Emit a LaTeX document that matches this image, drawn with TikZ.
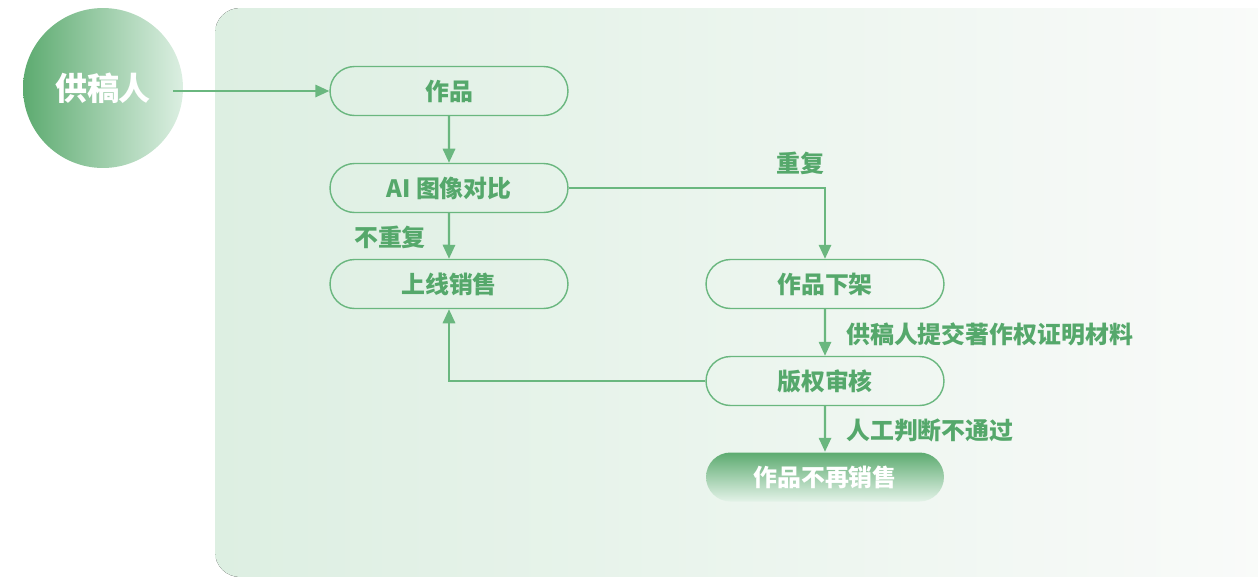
\documentclass[tikz,border=0pt]{standalone}
\usepackage{fontspec}
\setmainfont{Noto Sans CJK SC}
\usetikzlibrary{shapes.misc,arrows.meta,positioning}

\definecolor{txtgreen}{HTML}{55A86B}
\definecolor{linegreen}{HTML}{6AB77F}
\definecolor{panelL}{HTML}{DDEFE2}
\definecolor{panelR}{HTML}{FAFBFA}
\definecolor{deepgreen}{HTML}{5DAB70}
\definecolor{palegreen}{HTML}{DCEFE2}

\begin{document}
\begin{tikzpicture}[x=0.02cm,y=-0.02cm]
\tikzstyle{every node}+=[font=\bfseries\fontsize{13.6}{16}\selectfont, text=txtgreen]
\tikzstyle{pill}=[rounded rectangle, draw=linegreen, line width=0.8pt, minimum width=4.76cm, minimum height=0.98cm, inner sep=0pt]
\tikzstyle{flow}=[draw=linegreen, line width=1.3pt, -{Triangle[length=8pt,width=7pt]}]
\useasboundingbox (0,0) rectangle (1258,576);
% background panel
\fill [left color=panelL, right color=panelR, rounded corners=0.5cm] (215,8) rectangle (1290,577);
% contributor
\node [circle, minimum size=3.2cm, inner sep=0pt, left color=deepgreen, right color=palegreen, text=white,
  font=\bfseries\fontsize{18.2}{20}\selectfont] (author) at (103,88) {供稿人};
% left column
\node [pill] (work) at (449,91) {作品};
\node [pill] (compare) at (449,188) {AI 图像对比};
\node [pill] (online) at (449,284) {上线销售};
% right column
\node [pill] (offline) at (825,284) {作品下架};
\node [pill] (review) at (825,381) {版权审核};
\node [pill, draw=none, top color=deepgreen, bottom color=palegreen!80!white, text=white] (stop) at (825,477) {作品不再销售};
% connectors
\coordinate (start) at (173,91);
\draw [flow] (start) -- (work);
\draw [flow] (work) -- (compare);
\draw [flow] (compare) -- (online);
\node [anchor=east] (same) at (432,237) {不重复};
\draw [flow] (compare.east) -| (offline.north);
\node (dup) at (800,163) {重复};
\draw [flow] (offline) -- (review);
\node [anchor=west] (proof) at (840,334) {供稿人提交著作权证明材料};
\draw [flow] (review.west) -| (online.south);
\draw [flow] (review) -- (stop);
\node [anchor=west] (reject) at (840,430) {人工判断不通过};
\end{tikzpicture}
\end{document}
